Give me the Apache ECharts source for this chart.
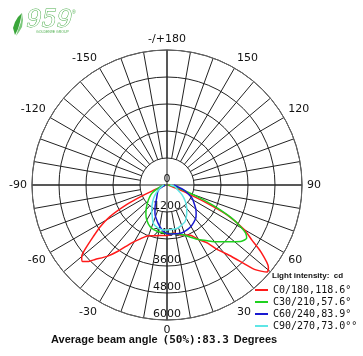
<!DOCTYPE html>
<html><head><meta charset="utf-8">
<script src="https://cdn.jsdelivr.net/npm/echarts@6/dist/echarts.min.js"></script>
<style>html,body{margin:0;padding:0;background:#fff}#c{width:363px;height:356px}</style>
</head><body><div id="c"></div>
<script>
// Series names (legend)
const seriesNames = ['C0/180,118.6°', 'C30/210,57.6°', 'C60/240,83.9°', 'C90/270,73.0°°'];
const seriesColors = ['#ff1a1a', '#1fd11f', '#1a1ad0', '#5fe6e6'];

// Angles (deg, 0 = nadir, + = right side) and intensities (cd)
const anglesC0 = [-90, -75, -70, -68, -66, -64, -61, -58, -55, -52, -50, -48, -46, -44, -40, -36, -32, -26, -20, -14, -8, 0, 8, 15, 25, 30, 35, 38, 42, 46, 49, 51, 54.6, 57, 60, 63.5, 65.6, 67.8, 70, 75, 90];
const valuesC0 = [50, 150, 300, 700, 1300, 2000, 2900, 3500, 4000, 4600, 4950, 5070, 4900, 4600, 4140, 3600, 3070, 2650, 2400, 2330, 2270, 2250, 2150, 2300, 2460, 2800, 3150, 3650, 4260, 5400, 5900, 5800, 5110, 4500, 3960, 3000, 1970, 980, 400, 150, 50];

const anglesC30 = [-90, -75, -61, -47, -37, -30, -22, -12, 0, 10, 18.8, 24.4, 30, 35.9, 42, 48.3, 53, 56.2, 58.5, 60.5, 63, 65, 67, 68.9, 72, 78, 90];
const valuesC30 = [50, 300, 770, 1200, 1560, 1800, 2000, 2100, 2150, 2200, 2350, 2550, 2800, 3060, 3400, 3790, 4150, 4260, 4100, 3760, 3200, 2630, 2000, 1440, 800, 300, 50];

const anglesC60 = [-90, -65, -55, -38, -30, -23, -13, -5, 0, 4.3, 15.8, 22, 29.6, 35, 40.8, 46, 50.9, 56, 62.3, 68, 73.6, 80, 90];
const valuesC60 = [80, 340, 500, 750, 1050, 1370, 1750, 2050, 2150, 2180, 2230, 2200, 2130, 2050, 1955, 1800, 1640, 1450, 1270, 1000, 790, 500, 300];

const anglesC90 = [-90, -65, -50, -40, -31.5, -25, -19.7, -12, -4.7, 0, 6, 14.3, 20, 26.1, 33, 40.2, 48, 57, 70, 78, 90];
const valuesC90 = [150, 350, 700, 1000, 1300, 1550, 1810, 1950, 2010, 2000, 1990, 1970, 1900, 1820, 1600, 1360, 1100, 800, 450, 360, 150];

// Axis ticks
const radiusMax = 6000;
const radiusStep = 1200;
const angleLabelStep = 30;

function toPolar(angles, values) {
  return angles.map((a, i) => [values[i], a < 0 ? a + 360 : a]);
}
const allAngles = [anglesC0, anglesC30, anglesC60, anglesC90];
const allValues = [valuesC0, valuesC30, valuesC60, valuesC90];

const chart = echarts.init(document.getElementById('c'), null, {renderer: 'canvas'});
const CX = 167, CY = 185, R = 135, RIN = 27;

const option = {
  animation: false,
  backgroundColor: '#fff',
  title: [
    {text: 'Light intensity:  cd', left: 272, top: 272, padding: 0,
     textStyle: {fontSize: 8, fontWeight: 'bold', fontFamily: 'Liberation Sans', color: '#111'}},
    {text: '{a|Average beam angle} {b|(50%):83.3} {a|Degrees}', left: 51, top: 331, padding: 0,
     textStyle: {rich: {
       a: {fontSize: 11, fontWeight: 'bold', fontFamily: 'Liberation Sans', color: '#111'},
       b: {fontSize: 11, fontFamily: 'DejaVu Sans Mono', color: '#111'}
     }}}
  ],
  legend: {
    orient: 'vertical', left: 255, top: 284, itemWidth: 13, itemHeight: 2, itemGap: 0,
    icon: 'rect', padding: 0,
    textStyle: {fontFamily: 'DejaVu Sans Mono', fontSize: 10, color: '#111', lineHeight: 12},
    data: seriesNames
  },
  polar: [
    {center: [CX, CY], radius: [0, R]},
    {center: [CX, CY], radius: [RIN, R]}
  ],
  angleAxis: [
    {polarIndex: 0, type: 'value', min: 0, max: 360, interval: 90, startAngle: 270, clockwise: false,
     axisLine: {lineStyle: {color: '#666', width: 1}}, axisTick: {show: false}, axisLabel: {show: false},
     splitLine: {lineStyle: {color: '#1a1a1a', width: 1}}},
    {polarIndex: 1, type: 'value', min: 0, max: 360, interval: 10, startAngle: 270, clockwise: false,
     axisLine: {show: false}, axisTick: {show: false},
     axisLabel: {margin: 5, color: '#111', fontSize: 11, fontFamily: 'DejaVu Sans',
       formatter: function (v) {
         if (v % angleLabelStep !== 0 || v === 360) return '';
         if (v === 180) return '-/+180';
         return String(v > 180 ? v - 360 : v);
       }},
     splitLine: {lineStyle: {color: '#222', width: 1}}}
  ],
  radiusAxis: [
    {polarIndex: 0, type: 'value', min: 0, max: radiusMax, interval: radiusStep,
     axisLine: {show: false}, axisTick: {show: false},
     splitLine: {lineStyle: {color: '#222', width: 1}},
     axisLabel: {margin: 0, align: 'center', verticalAlign: 'bottom', fontSize: 11,
       fontFamily: 'DejaVu Sans', color: '#111', formatter: function (v) { return String(v); }}},
    {polarIndex: 1, type: 'value', min: 0, max: 1, axisLine: {show: false}, axisTick: {show: false},
     axisLabel: {show: false}, splitLine: {show: false}}
  ],
  series: seriesNames.map((n, i) => ({
    name: n, type: 'line', coordinateSystem: 'polar', polarIndex: 0,
    data: toPolar(allAngles[i], allValues[i]), showSymbol: false, smooth: 0.2,
    lineStyle: {color: seriesColors[i], width: 1.5}, itemStyle: {color: seriesColors[i]}, z: 3
  })),
  graphic: [
    {type: 'polygon', shape: {points: [[22,13],[18,17],[15,22],[13,28],[15,35],[18,29],[20,22]]}, style: {fill: '#3aa63a'}},
    {type: 'polygon', shape: {points: [[22,13],[23,20],[22,27],[19,32],[16,36],[18,30],[21,22]]}, style: {fill: '#7cc97c'}},
    {type: 'text', left: 26, top: 8, style: {text: '959', fontSize: 24, fontStyle: 'italic', fontFamily: 'DejaVu Serif', fill: '#fff', stroke: '#4cae4c', lineWidth: 1}},
    {type: 'text', left: 72, top: 10, style: {text: '®', fontSize: 5, fill: '#4cae4c'}},
    {type: 'text', left: 36, top: 30, style: {text: 'GOLDEN9E GROUP', fontSize: 3.5, fontFamily: 'Liberation Sans', fill: '#4cae4c'}}
  ]
};
chart.setOption(option);
</script>
</body></html>
